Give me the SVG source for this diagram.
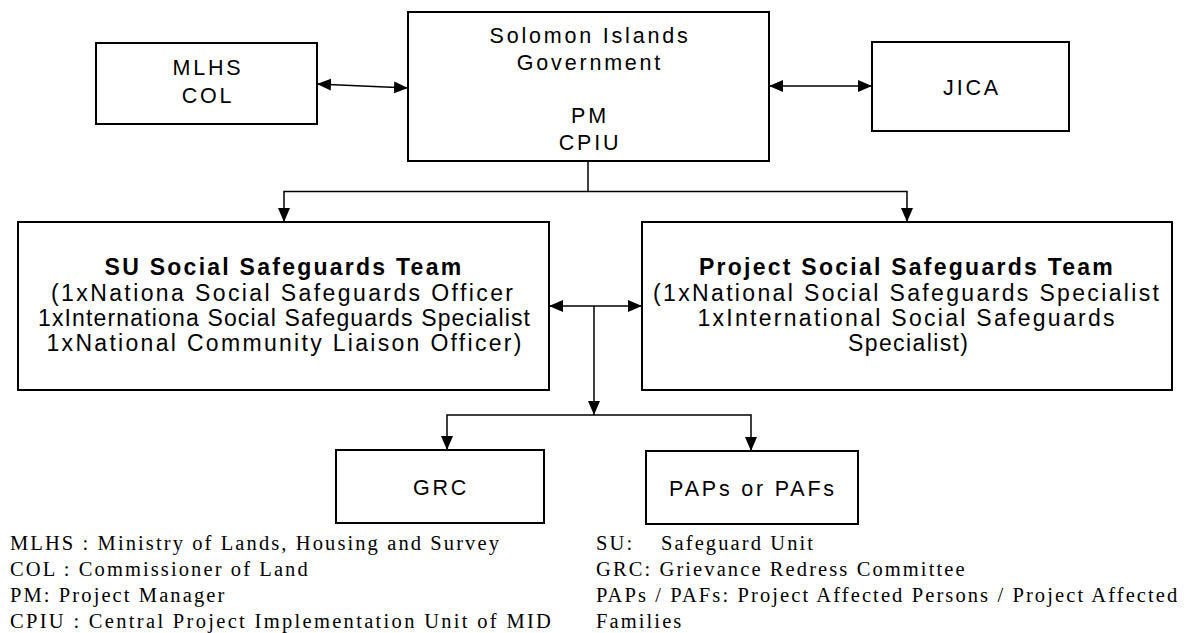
<svg xmlns="http://www.w3.org/2000/svg" width="1195" height="633" viewBox="0 0 1195 633">
<style>
.box{fill:#fff;stroke:#000;stroke-width:2}
.lbl{font-family:"Liberation Sans",Arial,sans-serif;font-size:21.5px;letter-spacing:2.8px;text-anchor:middle;fill:#000}
.b{font-size:23px;font-weight:bold;letter-spacing:2.25px}
.reg{font-size:23px;letter-spacing:0}
.legend{font-family:"Liberation Serif","Times New Roman",serif;font-size:20.5px;letter-spacing:2.1px;fill:#000}
.conn{stroke:#000;stroke-width:1.5;fill:none}
</style>
<defs>
<marker id="ah" viewBox="0 0 14 12" refX="14" refY="6" markerWidth="14" markerHeight="12" markerUnits="userSpaceOnUse" orient="auto-start-reverse">
<path d="M0,0 L14,6 L0,12 z" fill="#000"/>
</marker>
</defs>
<rect width="1195" height="633" fill="#fff"/>
<g id="connectors">
<line class="conn" x1="317" y1="84" x2="408" y2="88" marker-start="url(#ah)" marker-end="url(#ah)"/>
<line class="conn" x1="769" y1="86" x2="872" y2="86" marker-start="url(#ah)" marker-end="url(#ah)"/>
<polyline class="conn" points="588,161 588,191.5"/>
<polyline class="conn" points="284,222 284,191.5 907,191.5 907,222" marker-start="url(#ah)" marker-end="url(#ah)"/>
<line class="conn" x1="549" y1="306" x2="642" y2="306" marker-start="url(#ah)" marker-end="url(#ah)"/>
<line class="conn" x1="594" y1="306" x2="594" y2="415" marker-end="url(#ah)"/>
<polyline class="conn" points="447,450 447,415 751,415 751,451" marker-start="url(#ah)" marker-end="url(#ah)"/>
</g>
<g id="mlhs">
<rect class="box" x="96" y="43" width="221" height="81"/>
<text class="lbl" x="208" y="75">MLHS</text>
<text class="lbl" x="208" y="103">COL</text>
</g>
<g id="sig">
<rect class="box" x="408" y="12" width="361" height="149"/>
<text class="lbl" x="590" y="43">Solomon Islands</text>
<text class="lbl" x="590" y="70">Government</text>
<text class="lbl" x="590" y="123">PM</text>
<text class="lbl" x="590" y="150">CPIU</text>
</g>
<g id="jica">
<rect class="box" x="872" y="42" width="197" height="89"/>
<text class="lbl" x="972" y="95">JICA</text>
</g>
<g id="su-team">
<rect class="box" x="18" y="222" width="531" height="168"/>
<text class="lbl b" x="284" y="275">SU Social Safeguards Team</text>
<text class="lbl reg" x="282" y="301" textLength="462" lengthAdjust="spacing">(1xNationa Social Safeguards Officer</text>
<text class="lbl reg" x="284" y="326" textLength="492" lengthAdjust="spacing">1xInternationa Social Safeguards Specialist</text>
<text class="lbl reg" x="284" y="351" textLength="475" lengthAdjust="spacing">1xNational Community Liaison Officer)</text>
</g>
<g id="project-team">
<rect class="box" x="642" y="222" width="530" height="168"/>
<text class="lbl b" x="907" y="275">Project Social Safeguards Team</text>
<text class="lbl reg" x="906" y="301" textLength="506" lengthAdjust="spacing">(1xNational Social Safeguards Specialist</text>
<text class="lbl reg" x="906" y="326" textLength="417" lengthAdjust="spacing">1xInternational Social Safeguards</text>
<text class="lbl reg" x="908" y="351" textLength="120" lengthAdjust="spacing">Specialist)</text>
</g>
<g id="grc">
<rect class="box" x="336" y="450" width="208" height="73"/>
<text class="lbl" x="441" y="495">GRC</text>
</g>
<g id="paps">
<rect class="box" x="646" y="451" width="212" height="73"/>
<text class="lbl" x="753" y="496">PAPs or PAFs</text>
</g>
<g id="legend">
<text class="legend" x="10" y="550">MLHS : Ministry of Lands, Housing and Survey</text>
<text class="legend" x="10" y="576">COL : Commissioner of Land</text>
<text class="legend" x="10" y="602">PM: Project Manager</text>
<text class="legend" x="10" y="628" textLength="543" lengthAdjust="spacing">CPIU : Central Project Implementation Unit of MID</text>
<text class="legend" x="596" y="550">SU:<tspan x="661">Safeguard Unit</tspan></text>
<text class="legend" x="596" y="576">GRC: Grievance Redress Committee</text>
<text class="legend" x="596" y="602">PAPs / PAFs: Project Affected Persons / Project Affected</text>
<text class="legend" x="596" y="628">Families</text>
</g>
</svg>
